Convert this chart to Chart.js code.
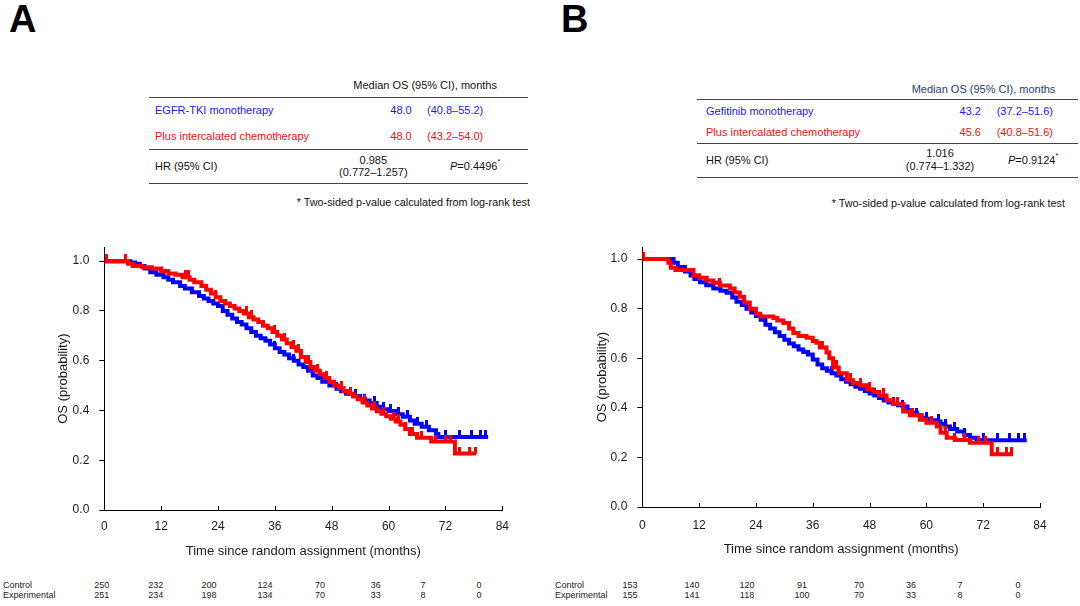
<!DOCTYPE html>
<html><head><meta charset="utf-8">
<script src="https://cdn.jsdelivr.net/npm/chart.js@4.4.1/dist/chart.umd.min.js"></script>
<style>
html,body{margin:0;padding:0;background:#fff;}
body{width:1080px;height:606px;position:relative;overflow:hidden;font-family:'Liberation Sans',Arial,sans-serif;color:#111;}
.t{position:absolute;white-space:nowrap;line-height:1.2;}
.rule{position:absolute;height:0;border-top:1.5px solid #444;}
canvas{position:absolute;}
sup{font-size:7px;vertical-align:top;position:relative;top:-2px;}
</style></head>
<body>
<canvas id="ca" width="540" height="330" style="left:0px;top:230px;width:540px;height:330px"></canvas>
<canvas id="cb" width="540" height="330" style="left:540px;top:230px;width:540px;height:330px"></canvas>
<div id="txt"></div>
<script>
// ---------------- DATA ----------------
const months = [0, 12, 24, 36, 48, 60, 72, 84];
const probTicks = [0, 0.2, 0.4, 0.6, 0.8, 1.0];

// Panel A
const aControlTime = [0,5.5,6.5,7.5,8.5,9.7,11,12.5,13.5,14.5,16,17,18.5,20,21,22,23,24,25,26,27,28,29,30,31,32,33,34,35,36,37,38,39,40,41,42,43,44,45,46,47.5,49,50,51,52.5,54,55,56,57.5,58.5,60,61.5,63,64.5,65.5,67,68.5,70,70.5];
const aControlSurv = [1.0,0.995,0.99,0.98,0.97,0.955,0.945,0.935,0.925,0.915,0.90,0.89,0.875,0.86,0.85,0.84,0.83,0.82,0.80,0.785,0.77,0.755,0.745,0.73,0.715,0.70,0.69,0.68,0.665,0.65,0.635,0.625,0.61,0.60,0.585,0.575,0.56,0.54,0.53,0.515,0.50,0.487,0.477,0.467,0.458,0.447,0.44,0.43,0.415,0.405,0.398,0.385,0.375,0.36,0.347,0.335,0.32,0.305,0.293];
const aControlEnd = 81;
const aControlCensor = [36,40,44,49,53,55,57,59,60.5,62,64,66,68,72,75,77.5,79.5,80.5];

const aExpTime = [0,5,6,8,10,12,13.5,15,16.5,18,19,20.5,21.5,22.5,23.5,24.5,25.5,26.5,27.5,28.5,29.5,30.5,31.5,32.5,33.5,34.5,35.5,36.5,37.5,38.5,39.5,40.5,41.5,42.5,43.5,44.5,45.5,46.5,47.5,48.5,49.5,50.5,51.5,52.5,53.5,54.5,55.5,56.5,57.5,58.5,59.5,60.5,61.5,62.5,63.5,64.5,66,69,74];
const aExpSurv = [1.0,0.99,0.98,0.975,0.97,0.96,0.95,0.945,0.935,0.925,0.915,0.90,0.885,0.87,0.855,0.84,0.83,0.82,0.81,0.80,0.79,0.775,0.765,0.755,0.74,0.73,0.715,0.70,0.685,0.67,0.655,0.64,0.615,0.595,0.575,0.56,0.545,0.53,0.515,0.50,0.49,0.478,0.467,0.456,0.445,0.432,0.42,0.408,0.397,0.387,0.377,0.367,0.356,0.343,0.325,0.305,0.29,0.275,0.227];
const aExpEnd = 78.5;
const aExpCensor = [0.5,4.4,17.2,17.8,23.5,30,31,36,38,40,41,43,45,47,50,52,55,57,59,61,62,63.5,65,67,70,72,73,75,77,78.3];

const aRiskControl = [250,232,200,124,70,36,7,0];
const aRiskExp = [251,234,198,134,70,33,8,0];

// Panel B
const bControlTime = [0,6.6,7.5,9,10.2,11,12.2,13.5,15,16.5,17.8,19,19.9,21,22,23,24,25,26,27,28,29,30,31,32,33,34,35,36,37,38,39,40,41,42,43,44,45,46,47,48,49,50,51,52,53,54,55,56,57,58,59,60,61,62,63,64,65,66.5,68,69.2,70.6];
const bControlSurv = [1.0,0.985,0.968,0.95,0.934,0.92,0.907,0.895,0.881,0.872,0.864,0.845,0.828,0.815,0.80,0.785,0.77,0.755,0.735,0.72,0.705,0.69,0.675,0.66,0.648,0.635,0.625,0.615,0.595,0.575,0.56,0.55,0.54,0.53,0.515,0.505,0.495,0.485,0.477,0.468,0.458,0.45,0.44,0.43,0.422,0.415,0.41,0.405,0.39,0.38,0.37,0.36,0.355,0.35,0.345,0.335,0.325,0.315,0.305,0.29,0.279,0.269];
const bControlEnd = 81.2;
const bControlCensor = [40,46,49,53,55,58,60,62.5,64,66,68,72,75,77.5,79.5,80.8];

const bExpTime = [0,5.5,6,7,10.8,12,13.6,15,16.4,18.5,19.5,20.6,21.5,22.7,24,24.9,27.7,28.5,29.8,31,31.9,33,34.7,36,36.8,37.5,38.9,39.5,40.3,41.5,43.2,44.5,46,47.5,48.8,50,51.6,53,55.1,56.5,58.6,60,62.2,63,64.3,66,69.2,73.8];
const bExpSurv = [1.0,0.985,0.965,0.956,0.935,0.925,0.914,0.905,0.894,0.881,0.865,0.848,0.825,0.80,0.78,0.768,0.762,0.752,0.742,0.72,0.702,0.69,0.683,0.67,0.663,0.643,0.623,0.60,0.563,0.54,0.511,0.50,0.491,0.475,0.464,0.45,0.431,0.415,0.385,0.37,0.352,0.34,0.325,0.30,0.279,0.27,0.259,0.213];
const bExpEnd = 78.3;
const bExpCensor = [0.3,16.4,38,41,44,46,48,51,54,57,59,61,63,64,66,68,71,72.5,75,77,78];

const bRiskControl = [153,140,120,91,70,36,7,0];
const bRiskExp = [155,141,118,100,70,33,8,0];

// ---------------- LAYOUT / STYLE ----------------
const F = "'Liberation Sans', Arial, sans-serif";
const BLUE = '#0000ff', RED = '#ff0000';
const aRiskX = [101.7,155.7,209,265,320,375.7,423,479];
const bRiskX = [630,692,747,802,859,911,960,1018];

function stepAt(times, survs, t){ let v = survs[0]; for(let i=0;i<times.length;i++){ if(times[i]<=t) v = survs[i]; else break; } return v; }
function curvePts(times, survs, end){ const p = times.map((t,i)=>({x:t,y:survs[i]})); p.push({x:end,y:survs[survs.length-1]}); return p; }
function censorPts(times, survs, cens){ return cens.map(t=>({x:t,y:stepAt(times,survs,t)})); }
function tickImg(color){ const c=document.createElement('canvas'); c.width=3; c.height=14; const g=c.getContext('2d'); g.fillStyle=color; g.fillRect(0,0,3,7); return c; }

const inTicks = { id:'inTicks', afterDraw(chart){
  const xs = chart.scales.x, ctx = chart.ctx, b = chart.chartArea.bottom;
  ctx.save(); ctx.strokeStyle='#000'; ctx.lineWidth=1;
  xs.ticks.forEach(t=>{ const px = Math.round(xs.getPixelForValue(t.value))+0.5; ctx.beginPath(); ctx.moveTo(px,b); ctx.lineTo(px,b-4); ctx.stroke(); });
  ctx.restore();
}};

function makeKM(id, d, g){
  const blueTick = tickImg(BLUE), redTick = tickImg(RED);
  new Chart(document.getElementById(id), {
    type:'line',
    data:{ datasets:[
      {data:curvePts(d.eT,d.eS,d.eEnd), borderColor:RED, borderWidth:4, stepped:true, pointRadius:0, fill:false, order:2, borderJoinStyle:'miter'},
      {data:censorPts(d.eT,d.eS,d.eC), showLine:false, pointStyle:redTick, pointRadius:3, order:1},
      {data:curvePts(d.cT,d.cS,d.cEnd), borderColor:BLUE, borderWidth:4, stepped:true, pointRadius:0, fill:false, order:4, borderJoinStyle:'miter'},
      {data:censorPts(d.cT,d.cS,d.cC), showLine:false, pointStyle:blueTick, pointRadius:3, order:3}
    ]},
    options:{
      responsive:false, animation:false, devicePixelRatio:1,
      layout:{padding:{left:0, top:g.padTop, right:g.padRight, bottom:0}},
      plugins:{legend:{display:false}, tooltip:{enabled:false}},
      scales:{
        x:{type:'linear', min:0, max:84,
           afterBuildTicks:s=>{ s.ticks = months.map(v=>({value:v})); },
           ticks:{padding:g.xPad, color:'#1a1a1a', font:{size:12, family:F}, maxRotation:0, autoSkip:false},
           grid:{display:true, drawOnChartArea:false, drawTicks:false},
           border:{color:'#000', width:1},
           title:{display:true, text:'Time since random assignment (months)', font:{size:13, family:F}, color:'#1a1a1a', padding:{top:0,bottom:g.xTitlePad}},
           afterFit:s=>{ s.height = g.xH; }},
        y:{type:'linear', min:0, max:g.yMax,
           afterBuildTicks:s=>{ s.ticks = probTicks.map(v=>({value:v})); },
           ticks:{padding:10, color:'#1a1a1a', font:{size:12, family:F}, autoSkip:false, callback:v=>Number(v).toFixed(1)},
           grid:{display:true, drawOnChartArea:false, drawTicks:true, tickLength:5, color:'#000'},
           border:{color:'#000', width:1},
           title:{display:true, text:'OS (probability)', font:{size:13, family:F}, color:'#1a1a1a', padding:{top:g.yTitlePad,bottom:0}},
           afterFit:s=>{ s.width = g.yW; }}
      }
    },
    plugins:[inTicks]
  });
}

makeKM('ca', {cT:aControlTime,cS:aControlSurv,cEnd:aControlEnd,cC:aControlCensor,eT:aExpTime,eS:aExpSurv,eEnd:aExpEnd,eC:aExpCensor},
  {padTop:16, padRight:37.7, yW:104.3, xH:50, yMax:1.056, xPad:9.5, xTitlePad:0.5, yTitlePad:56});
makeKM('cb', {cT:bControlTime,cS:bControlSurv,cEnd:bControlEnd,cC:bControlCensor,eT:bExpTime,eS:bExpSurv,eEnd:bExpEnd,eC:bExpCensor},
  {padTop:13, padRight:40, yW:102.3, xH:53, yMax:1.048, xPad:11.5, xTitlePad:3, yTitlePad:55});

// ---------------- TEXT ----------------
const box = document.getElementById('txt');
function T(x, y, html, size, align, color, extra){
  const e = document.createElement('div'); e.className='t'; e.innerHTML = html;
  e.style.fontSize = size+'px'; e.style.color = color || '#111';
  e.style.left = x+'px'; e.style.top = y+'px';
  const tx = align==='c' ? '-50%' : (align==='r' ? '-100%' : '0');
  e.style.transform = 'translate('+tx+',-50%)';
  if (extra) Object.assign(e.style, extra);
  box.appendChild(e);
}
function R(x1, x2, y){ const e=document.createElement('div'); e.className='rule'; e.style.left=x1+'px'; e.style.width=(x2-x1)+'px'; e.style.top=(y-0.75)+'px'; box.appendChild(e); }

// Panel letters
T(9, 19, 'A', 38, 'l', '#000', {fontWeight:'bold', lineHeight:'1'});
T(561, 19, 'B', 38, 'l', '#000', {fontWeight:'bold', lineHeight:'1'});

// Table A
const TB = '#1a1aee', TR = '#f01010';
T(353.3, 86, 'Median OS (95% CI), months', 11, 'l');
R(149, 528, 97.7);
T(155, 111, 'EGFR-TKI monotherapy', 11, 'l', TB);
T(411.7, 111, '48.0', 11, 'r', TB);
T(427, 111, '(40.8–55.2)', 11, 'l', TB);
T(155, 137.3, 'Plus intercalated chemotherapy', 11, 'l', TR);
T(411.7, 137.3, '48.0', 11, 'r', TR);
T(427, 137.3, '(43.2–54.0)', 11, 'l', TR);
R(149, 528, 150);
T(155, 166.7, 'HR (95% CI)', 11, 'l');
T(373.3, 161, '0.985', 11, 'c');
T(373.3, 172.7, '(0.772–1.257)', 11, 'c');
T(450, 166.7, '<i>P</i>=0.4496<sup>*</sup>', 11, 'l');
R(149, 528, 183.3);
T(530, 201.7, '* Two-sided p-value calculated from log-rank test', 10.8, 'r');

// Table B
T(911.7, 90, 'Median OS (95% CI), months', 11, 'l', '#24406e');
R(696.7, 1078, 100);
T(706, 111.7, 'Gefitinib monotherapy', 11, 'l', TB);
T(981, 111.7, '43.2', 11, 'r', TB);
T(996.7, 111.7, '(37.2–51.6)', 11, 'l', TB);
T(706, 133.3, 'Plus intercalated chemotherapy', 11, 'l', TR);
T(981, 133.3, '45.6', 11, 'r', TR);
T(996.7, 133.3, '(40.8–51.6)', 11, 'l', TR);
R(696.7, 1078, 143.3);
T(706, 161, 'HR (95% CI)', 11, 'l');
T(940, 154, '1.016', 11, 'c');
T(940, 166.7, '(0.774–1.332)', 11, 'c');
T(1008, 161, '<i>P</i>=0.9124<sup>*</sup>', 11, 'l');
R(696.7, 1078, 177.7);
T(1065, 203.3, '* Two-sided p-value calculated from log-rank test', 10.8, 'r');

// Numbers at risk
T(3, 585, 'Control', 9, 'l', '#222');
T(3, 595, 'Experimental', 9, 'l', '#222');
aRiskControl.forEach((v,i)=>T(aRiskX[i], 585, String(v), 9, 'c', '#222'));
aRiskExp.forEach((v,i)=>T(aRiskX[i], 595, String(v), 9, 'c', '#222'));
T(555, 585, 'Control', 9, 'l', '#222');
T(555, 595, 'Experimental', 9, 'l', '#222');
bRiskControl.forEach((v,i)=>T(bRiskX[i], 585, String(v), 9, 'c', '#222'));
bRiskExp.forEach((v,i)=>T(bRiskX[i], 595, String(v), 9, 'c', '#222'));
</script>
</body></html>
